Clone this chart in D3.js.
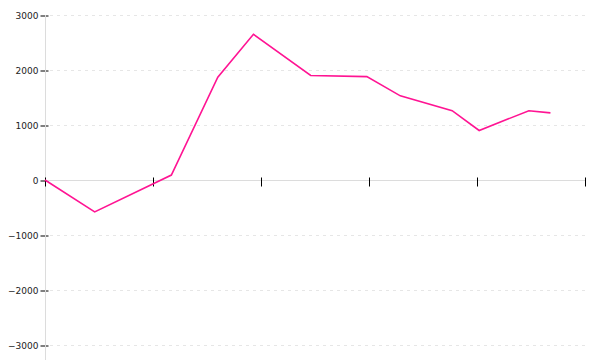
<!DOCTYPE html>
<html>
<head>
<meta charset="utf-8">
<script src="https://cdn.jsdelivr.net/npm/d3@7"></script>
<style>
  body { margin: 0; background: #fff; }
  svg { display: block; }
  .axis text { font-family: "DejaVu Sans", sans-serif; font-size: 9px; fill: #222; }
</style>
</head>
<body>
<div id="chart"></div>
<script>
// positions along the x axis (no labels shown) and the series values
var xs = [0, 4.6, 11.7, 16.0, 19.3, 24.6, 29.8, 32.9, 37.7, 40.2, 44.8, 46.8];
var values = [0, -580, 90, 1870, 2650, 1900, 1880, 1530, 1260, 900, 1260, 1220];
var yTicks = [-3000, -2000, -1000, 0, 1000, 2000, 3000];
var xTicks = [0, 10, 20, 30, 40, 50];

var width = 600,
    height = 360;

var x = d3.scaleLinear()
    .domain([0, 50])
    .range([45, 585]);

var y = d3.scaleLinear()
    .domain([-3000, 3000])
    .range([345, 15]);

var svg = d3.select("#chart")
    .append("svg")
    .attr("width", width)
    .attr("height", height);

/* ------- GRID -------*/
svg.append("g")
    .attr("class", "grid")
    .selectAll("line")
    .data(yTicks.filter(function (d) { return d !== 0; }))
    .enter()
    .append("line")
    .attr("x1", 50)
    .attr("x2", x(50))
    .attr("y1", function (d) { return y(d) + 0.5; })
    .attr("y2", function (d) { return y(d) + 0.5; })
    .attr("stroke", "#e6e6e6")
    .attr("stroke-dasharray", "3,4");

/* ------- Y AXIS -------*/
var yAxis = svg.append("g")
    .attr("class", "axis")
    .attr("transform", "translate(45.5,0.5)")
    .call(d3.axisLeft(y).tickValues(yTicks).tickSize(5).tickPadding(2).tickFormat(d3.format("d")));

yAxis.select(".domain").remove();
yAxis.selectAll(".tick line").attr("x2", 3).attr("x1", -5).attr("stroke", "#000");

svg.append("line")
    .attr("x1", 45.5).attr("x2", 45.5)
    .attr("y1", 15).attr("y2", height)
    .attr("stroke", "#dcdcdc");

/* ------- X AXIS -------*/
var xAxis = svg.append("g")
    .attr("class", "axis")
    .attr("transform", "translate(0," + (y(0) + 0.5) + ")")
    .call(d3.axisBottom(x).tickValues(xTicks).tickSize(6).tickFormat(""));

xAxis.select(".domain").attr("stroke", "#dcdcdc").attr("d", "M45,0H585");
xAxis.selectAll(".tick line").attr("y1", -3).attr("y2", 6).attr("stroke", "#000");

/* ------- LINE -------*/
var line = d3.line()
    .x(function (d, i) { return x(xs[i]); })
    .y(function (d) { return y(d); });

svg.append("path")
    .datum(values)
    .attr("fill", "none")
    .attr("stroke", "#ff1493")
    .attr("stroke-width", 1.6)
    .attr("d", line);
</script>
</body>
</html>
